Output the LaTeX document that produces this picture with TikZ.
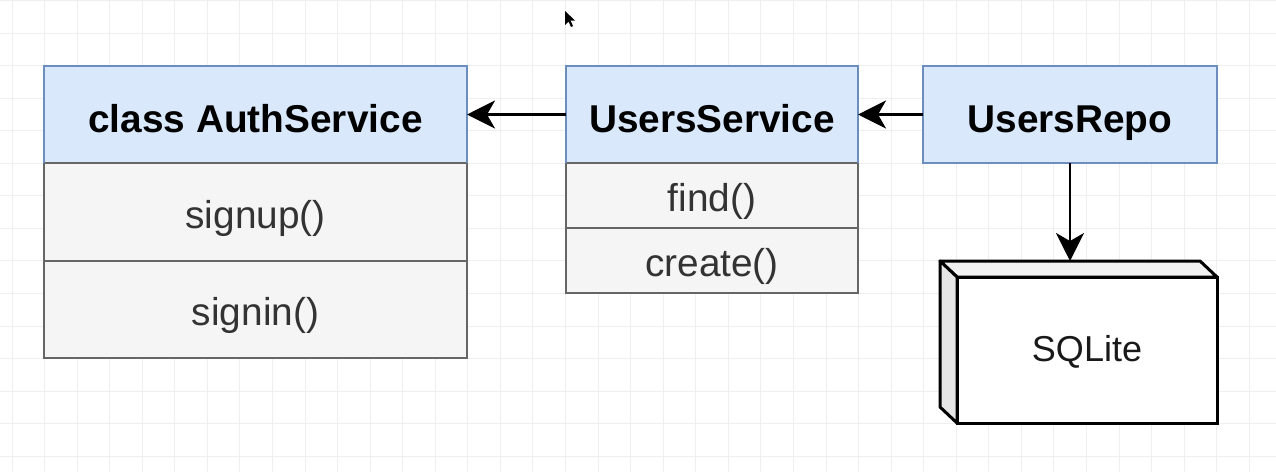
\documentclass[tikz,border=0pt]{standalone}
\usepackage{fontspec}
\setmainfont{Liberation Sans}
\usetikzlibrary{arrows.meta}
\definecolor{hdrfill}{HTML}{DAE8FC}
\definecolor{hdrline}{HTML}{6C8EBF}
\definecolor{rowfill}{HTML}{F5F5F5}
\definecolor{rowline}{HTML}{666666}
\definecolor{rowtext}{HTML}{333333}
\definecolor{gridc}{HTML}{EFEFEF}
\definecolor{topface}{HTML}{F1F1F1}
\definecolor{sideface}{HTML}{E6E6E6}
\tikzset{
  hdr/.style={draw=hdrline, fill=hdrfill, line width=2.2pt, inner sep=0pt, outer sep=0pt,
    font=\fontsize{38.8}{46}\selectfont\bfseries, text=black, text height=35pt, text depth=0pt},
  row/.style={draw=rowline, fill=rowfill, line width=2.6pt, inner sep=0pt, outer sep=0pt,
    font=\fontsize{38.8}{46}\selectfont, text=rowtext, text height=32.4pt, text depth=0pt},
  conn/.style={line width=2.5pt, draw=black, -{Stealth[length=28pt,width=28pt,inset=8pt]}},
  cube/.style={draw=black, line width=3pt, line join=round},
}
\begin{document}
\begin{tikzpicture}[x=1pt,y=-1pt]
\useasboundingbox (0,0) rectangle (1276,472);
\fill[white] (0,0) rectangle (1276,472);
% grid
\foreach \i in {0,...,39} {\draw[gridc, line width=1pt] ({12+32.56*\i},0) -- ({12+32.56*\i},472);}
\foreach \j in {0,...,14} {\draw[gridc, line width=1pt] (0,{0.5+32.56*\j}) -- (1276,{0.5+32.56*\j});}

% AuthService
\node[hdr, minimum width=423pt, minimum height=97pt] (auth) at (255.5,114.5) {class AuthService};
\node[row, minimum width=423pt, minimum height=98pt] (signup) at (255.5,212) {signup()};
\node[row, minimum width=423pt, minimum height=97pt] (signin) at (255.5,309.5) {signin()};
\draw[hdrline, line width=2.2pt] (auth.south west) -- (auth.north west) -- (auth.north east) -- (auth.south east);

% UsersService
\node[hdr, minimum width=292pt, minimum height=97pt] (users) at (712,114.5) {UsersService};
\node[row, minimum width=292pt, minimum height=65pt] (find) at (712,195.5) {find()};
\node[row, minimum width=292pt, minimum height=65pt] (create) at (712,260.5) {create()};
\draw[hdrline, line width=2.2pt] (users.south west) -- (users.north west) -- (users.north east) -- (users.south east);

% UsersRepo
\node[hdr, minimum width=294pt, minimum height=97pt] (repo) at (1070,114.5) {UsersRepo};

% SQLite cube
\node[draw=black, fill=white, line width=3pt, inner sep=0pt, outer sep=0pt,
  minimum width=260pt, minimum height=146pt, font=\fontsize{36}{44}\selectfont, text=black!90,
  text height=23.4pt, text depth=0pt]
  (sqlite) at (1087,350) {SQLite};
\coordinate (tl) at ([shift={(-17,-16)}]sqlite.north west);
\coordinate (tr) at ([shift={(-17,-16)}]sqlite.north east);
\coordinate (bl) at ([shift={(-17,-16)}]sqlite.south west);
\coordinate (sqtop) at (sqlite.north -| repo.south);
\coordinate (sqtopb) at ([yshift=16pt]sqtop);
\filldraw[cube, fill=topface] (tl) -- (tr) -- (sqlite.north east) -- (sqlite.north west) -- cycle;
\filldraw[cube, fill=sideface] (tl) -- (sqlite.north west) -- (sqlite.south west) -- (bl) -- cycle;

% connectors
\draw[conn] (users.west) -- (auth.east);
\draw[conn] (repo.west) -- (users.east);
\draw[conn] (repo.south) -- (sqtopb);

% mouse cursor
\fill[black] (565,11) -- (565,25) -- (568.5,21.5) -- (571,27) -- (573,26) -- (570.5,20.5) -- (575,20.5) -- cycle;
\end{tikzpicture}
\end{document}
